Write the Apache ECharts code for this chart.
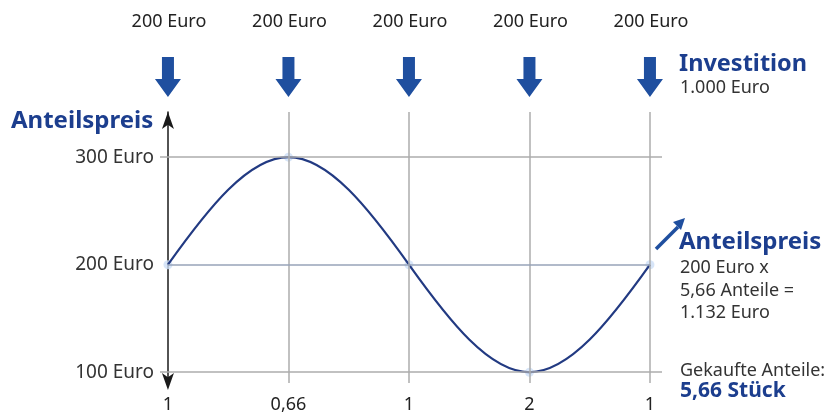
<!DOCTYPE html>
<html>
<head>
<meta charset="utf-8">
<script src="https://cdn.jsdelivr.net/npm/echarts@6/dist/echarts.min.js"></script>
<style>
html,body{margin:0;padding:0;background:#fff;}
#c{width:830px;height:416px;}
</style>
</head>
<body>
<div id="c"></div>
<script>
// Data
var investLabels = ['200 Euro', '200 Euro', '200 Euro', '200 Euro', '200 Euro'];
var sharesBought = ['1', '0,66', '1', '2', '1'];
var prices = [200, 300, 200, 100, 200];
var priceTicks = [100, 200, 300];

var FONT = '"Noto Sans", "DejaVu Sans", sans-serif';
var BLUE_TXT = '#1c3e8e';
var BLUE_ARR = '#1f4f9f';
var GREY = '#adadad';

var chart = echarts.init(document.getElementById('c'), null, {renderer: 'canvas'});

var points = prices.map(function (p, i) { return [i, p]; });
var n = prices.length;

var vLines = [];
for (var i = 1; i < n; i++) vLines.push({xAxis: i});

// smooth wave through the data points (Hermite tangents, rendered as cubic Beziers)
function renderWave(params, api) {
  if (params.dataIndex !== 0) return null;
  var pts = points.map(function (d) { return api.coord(d); });
  var m = [];
  for (var j = 0; j < pts.length; j++) {
    var a = pts[Math.max(0, j - 1)], b = pts[Math.min(pts.length - 1, j + 1)];
    m.push(Math.PI / 2 * (b[1] - a[1]) / (b[0] - a[0]));
  }
  var d = 'M' + pts[0][0] + ' ' + pts[0][1];
  for (var j = 0; j < pts.length - 1; j++) {
    var p0 = pts[j], p1 = pts[j + 1], h = (p1[0] - p0[0]) / 3;
    d += ' C' + (p0[0] + h) + ' ' + (p0[1] + m[j] * h) + ' ' +
         (p1[0] - h) + ' ' + (p1[1] - m[j + 1] * h) + ' ' + p1[0] + ' ' + p1[1];
  }
  return {type: 'path', shape: {pathData: d}, style: {fill: null, stroke: '#223a82', lineWidth: 2.2}};
}

var option = {
  animation: false,
  grid: {left: 160, right: 168, top: 112, bottom: 33},
  xAxis: {
    type: 'value', min: -0.066, max: 4.1,
    axisLine: {show: false}, axisTick: {show: false},
    axisLabel: {show: false}, splitLine: {show: false}
  },
  yAxis: {
    type: 'value', min: 90, max: 342, interval: 10,
    axisLine: {show: true, onZero: true, symbol: ['arrow', 'arrow'], symbolSize: [9, 17],
      symbolOffset: [-7, 0],
      lineStyle: {color: '#1a1a1a', width: 1.5}},
    axisTick: {show: false},
    splitLine: {show: false},
    axisLabel: {
      margin: 6, color: '#333', fontSize: 19, fontFamily: FONT,
      formatter: function (v) { return priceTicks.indexOf(v) >= 0 ? v + ' Euro' : ''; }
    }
  },
  series: [
    {
      type: 'line', data: [], z: 1, silent: true,
      markLine: {
        silent: true, symbol: 'none', label: {show: false},
        lineStyle: {color: GREY, width: 1.5, type: 'solid'},
        data: [{yAxis: priceTicks[0]}, {yAxis: priceTicks[2]}]
          .concat(vLines)
          .concat([[{coord: [0, priceTicks[1]], lineStyle: {color: '#97a3b8'}}, {coord: [n - 1, priceTicks[1]]}]])
      }
    },
    {
      type: 'scatter', data: points, z: 2, silent: true,
      symbol: 'circle', symbolSize: 9,
      itemStyle: {color: '#cddff6'}
    },
    {
      type: 'custom', data: points, z: 3, silent: true, clip: false,
      encode: {x: 0, y: 1},
      renderItem: renderWave
    }
  ]
};
chart.setOption(option);

// Decorations positioned through the x scale
var g = [];
for (var k = 0; k < n; k++) {
  var cx = chart.convertToPixel({xAxisIndex: 0}, k);
  g.push({type: 'text', style: {x: cx + 1, y: 22, text: investLabels[k], fill: '#222', font: '18px ' + FONT, textAlign: 'center', textVerticalAlign: 'middle'}});
  g.push({type: 'polygon', shape: {points: [[cx - 6, 57], [cx + 6, 57], [cx + 6, 79], [cx + 13, 79], [cx, 97], [cx - 13, 79], [cx - 6, 79]]}, style: {fill: BLUE_ARR}});
  g.push({type: 'text', style: {x: cx, y: 405, text: sharesBought[k], fill: '#222', font: '18px ' + FONT, textAlign: 'center', textVerticalAlign: 'middle'}});
}
function txt(x, y, t, size, bold, color) {
  return {type: 'text', style: {x: x, y: y, text: t, fill: color, font: (bold ? 'bold ' : '') + size + 'px ' + FONT, textAlign: 'left', textVerticalAlign: 'middle'}};
}
g.push(txt(11, 121, 'Anteilspreis', 24, true, BLUE_TXT));
g.push(txt(679, 64, 'Investition', 23.5, true, BLUE_TXT));
g.push(txt(680, 88, '1.000 Euro', 18, false, '#333'));
g.push(txt(679, 242, 'Anteilspreis', 24, true, BLUE_TXT));
g.push(txt(680, 268, '200 Euro x', 18, false, '#333'));
g.push(txt(680, 291, '5,66 Anteile =', 18, false, '#333'));
g.push(txt(680, 313, '1.132 Euro', 18, false, '#333'));
g.push(txt(680, 371, 'Gekaufte Anteile:', 18, false, '#333'));
g.push(txt(680, 391, '5,66 Stück', 21, true, BLUE_TXT));
// small diagonal arrow
g.push({type: 'line', shape: {x1: 656, y1: 249, x2: 678, y2: 227}, style: {stroke: BLUE_ARR, lineWidth: 3.5}});
g.push({type: 'polygon', shape: {points: [[685, 218], [681, 230], [673, 222]]}, style: {fill: BLUE_ARR}});

chart.setOption({graphic: g});
</script>
</body>
</html>
